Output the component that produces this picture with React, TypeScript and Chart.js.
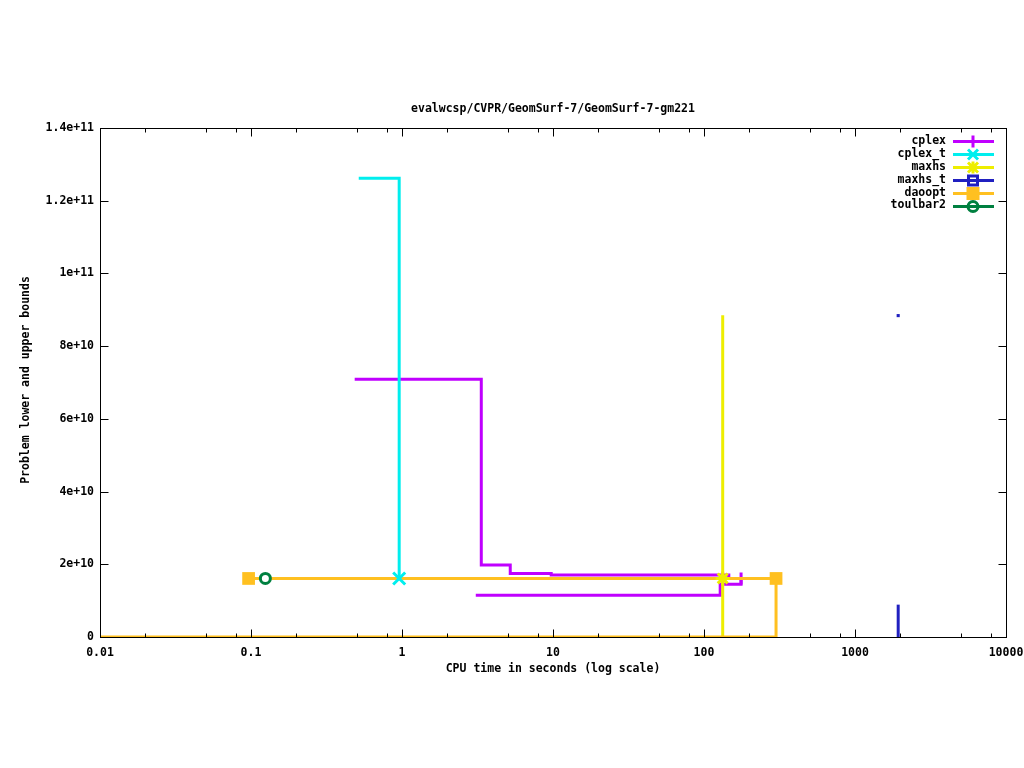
import React, { useEffect, useRef } from 'react';
import { Chart, registerables } from 'chart.js';
Chart.register(...registerables);

const TITLE = 'evalwcsp/CVPR/GeomSurf-7/GeomSurf-7-gm221';
const X_TITLE = 'CPU time in seconds (log scale)';
const Y_TITLE = 'Problem lower and upper bounds';

const xTickValues = [0.01, 0.1, 1, 10, 100, 1000, 10000];
const xTickLabels = ['0.01', '0.1', '1', '10', '100', '1000', '10000'];
const xMinorFactors = [2, 5, 8];
const yTickValues = [0, 2e10, 4e10, 6e10, 8e10, 1e11, 1.2e11, 1.4e11];
const yTickLabels = ['0', '2e+10', '4e+10', '6e+10', '8e+10', '1e+11', '1.2e+11', '1.4e+11'];

const seriesNames = ['cplex', 'cplex_t', 'maxhs', 'maxhs_t', 'daoopt', 'toulbar2'];
const seriesColors = ['#c000ff', '#00eeee', '#eeee00', '#2020c0', '#ffc020', '#008040'];

// cplex
const cplexUpperTime = [0.486, 3.35, 5.21, 9.73, 146, 176];
const cplexUpperBound = [7.09e10, 1.98e10, 1.75e10, 1.705e10, 1.61e10, 1.61e10];
const cplexLowerTime = [3.08, 128, 176];
const cplexLowerBound = [1.147e10, 1.45e10, 1.61e10];
const cplexEndTime = [176];
const cplexEndBound = [1.61e10];
// cplex_t
const cplexTUpperTime = [0.517, 0.958];
const cplexTUpperBound = [1.262e11, 1.61e10];
const cplexTEndTime = [0.958];
const cplexTEndBound = [1.61e10];
// maxhs
const maxhsTime = [133, 133];
const maxhsBound = [8.85e10, 0];
const maxhsEndTime = [133];
const maxhsEndBound = [1.61e10];
// maxhs_t
const maxhsTUpperTime = [1932];
const maxhsTUpperBound = [8.84e10];
const maxhsTLowerTime = [1932, 1932];
const maxhsTLowerBound = [0, 8.9e9];
// daoopt
const daooptUpperTime = [0.0964, 300];
const daooptUpperBound = [1.61e10, 1.61e10];
const daooptLowerTime = [0.01, 300];
const daooptLowerBound = [0, 1.61e10];
const daooptMarkTime = [0.0964, 300];
const daooptMarkBound = [1.61e10, 1.61e10];
// toulbar2
const toulbarTime = [0.1245];
const toulbarBound = [1.61e10];

const FONT = "bold 11.5px 'DejaVu Sans Mono'";
const FONT_OBJ = { family: "'DejaVu Sans Mono'", size: 11.5, weight: 'bold' as const };

const pts = (xs: number[], ys: number[]) => xs.map((x, i) => ({ x, y: ys[i] }));

const lineDs = (label: string, data: any[], color: string, order: number, stepped: any = false) => ({
  type: 'line' as const,
  label,
  data,
  borderColor: color,
  backgroundColor: color,
  borderWidth: 3,
  pointRadius: 0,
  pointHoverRadius: 0,
  stepped,
  fill: false,
  order,
  borderCapStyle: 'butt' as const,
  borderJoinStyle: 'miter' as const,
});

const markDs = (label: string, data: any[], color: string, style: any, radius: number, order: number, bg?: string, bw = 3) => ({
  type: 'line' as const,
  label,
  data,
  showLine: false,
  pointStyle: style,
  pointRadius: radius,
  pointHoverRadius: radius,
  pointBorderWidth: bw,
  borderColor: color,
  backgroundColor: bg ?? color,
  pointBorderColor: color,
  pointBackgroundColor: bg ?? color,
  order,
});

function drawLegendMarker(ctx: CanvasRenderingContext2D, i: number, x: number, y: number, color: string) {
  ctx.save();
  ctx.strokeStyle = color;
  ctx.fillStyle = color;
  ctx.lineWidth = 3;
  ctx.beginPath();
  if (i === 0) {
    ctx.moveTo(x, y - 6); ctx.lineTo(x, y + 6);
    ctx.moveTo(x - 6, y); ctx.lineTo(x + 6, y);
    ctx.stroke();
  } else if (i === 1) {
    ctx.moveTo(x - 5, y - 5); ctx.lineTo(x + 5, y + 5);
    ctx.moveTo(x - 5, y + 5); ctx.lineTo(x + 5, y - 5);
    ctx.stroke();
  } else if (i === 2) {
    ctx.moveTo(x, y - 6); ctx.lineTo(x, y + 6);
    ctx.moveTo(x - 5, y - 5); ctx.lineTo(x + 5, y + 5);
    ctx.moveTo(x - 5, y + 5); ctx.lineTo(x + 5, y - 5);
    ctx.stroke();
  } else if (i === 3) {
    ctx.strokeRect(x - 4.5, y - 4.5, 9, 9);
  } else if (i === 4) {
    ctx.fillRect(x - 6.5, y - 6.5, 13, 13);
  } else {
    ctx.arc(x, y, 5, 0, Math.PI * 2);
    ctx.stroke();
  }
  ctx.restore();
}

const overlay = {
  id: 'overlay',
  afterDatasetsDraw(chart: any) {
    const ctx: CanvasRenderingContext2D = chart.ctx;
    const { left, right, top, bottom } = chart.chartArea;
    const xs = chart.scales.x;
    const ys = chart.scales.y;
    ctx.save();
    ctx.strokeStyle = '#000';
    ctx.lineWidth = 1;
    const L = Math.round(left) + 0.5, R = Math.round(right) + 0.5, T = Math.round(top) + 0.5, B = Math.round(bottom) + 0.5;
    ctx.strokeRect(L, T, R - L, B - T);
    ctx.beginPath();
    yTickValues.forEach((v) => {
      const py = Math.round(ys.getPixelForValue(v)) + 0.5;
      ctx.moveTo(L, py); ctx.lineTo(L + 8, py);
      ctx.moveTo(R, py); ctx.lineTo(R - 8, py);
    });
    xTickValues.forEach((v) => {
      const px = Math.round(xs.getPixelForValue(v)) + 0.5;
      ctx.moveTo(px, B); ctx.lineTo(px, B - 8);
      ctx.moveTo(px, T); ctx.lineTo(px, T + 8);
      xMinorFactors.forEach((f) => {
        const mv = v * f;
        if (mv > 10000) return;
        const mx = Math.round(xs.getPixelForValue(mv)) + 0.5;
        ctx.moveTo(mx, B); ctx.lineTo(mx, B - 4);
        ctx.moveTo(mx, T); ctx.lineTo(mx, T + 4);
      });
    });
    ctx.stroke();
    ctx.restore();
  },
  afterDraw(chart: any) {
    const ctx: CanvasRenderingContext2D = chart.ctx;
    const { left, right } = chart.chartArea;
    const cx = (left + right) / 2;
    ctx.save();
    ctx.fillStyle = '#000';
    ctx.font = FONT;
    ctx.textAlign = 'center';
    ctx.textBaseline = 'middle';
    ctx.fillText(TITLE, cx, 109);
    ctx.fillText(X_TITLE, cx, 669);
    ctx.save();
    ctx.translate(26, 380);
    ctx.rotate(-Math.PI / 2);
    ctx.fillText(Y_TITLE, 0, 0);
    ctx.restore();
    ctx.textAlign = 'right';
    seriesNames.forEach((name, i) => {
      const y = 141 + i * 12.9;
      ctx.fillStyle = '#000';
      ctx.fillText(name, 946, y);
      ctx.strokeStyle = seriesColors[i];
      ctx.lineWidth = 3;
      ctx.beginPath();
      ctx.moveTo(953, Math.round(y) + 0.5);
      ctx.lineTo(994, Math.round(y) + 0.5);
      ctx.stroke();
      drawLegendMarker(ctx, i, 973, Math.round(y) + 0.5, seriesColors[i]);
    });
    ctx.restore();
  },
};

export default function App() {
  const ref = useRef<HTMLCanvasElement>(null);
  useEffect(() => {
    const [cPlex, cPlexT, cMaxhs, cMaxhsT, cDaoopt, cToul] = seriesColors;
    const datasets: any[] = [
      lineDs('cplex', pts(cplexUpperTime, cplexUpperBound), cPlex, 30, 'before'),
      lineDs('cplex lb', pts(cplexLowerTime, cplexLowerBound), cPlex, 29, 'before'),
      markDs('cplex end', pts(cplexEndTime, cplexEndBound), cPlex, 'cross', 6, 28.5),
      lineDs('cplex_t', pts(cplexTUpperTime, cplexTUpperBound), cPlexT, 28, 'before'),
      lineDs('maxhs', pts(maxhsTime, maxhsBound), cMaxhs, 27),
      lineDs('maxhs_t lb', pts(maxhsTLowerTime, maxhsTLowerBound), cMaxhsT, 26),
      markDs('maxhs_t ub', pts(maxhsTUpperTime, maxhsTUpperBound), cMaxhsT, 'rect', 2.2, 25, undefined, 0),
      lineDs('daoopt', pts(daooptUpperTime, daooptUpperBound), cDaoopt, 24),
      lineDs('daoopt lb', pts(daooptLowerTime, daooptLowerBound), cDaoopt, 23, 'before'),
      markDs('cplex_t end', pts(cplexTEndTime, cplexTEndBound), cPlexT, 'crossRot', 8.5, 9),
      markDs('maxhs end', pts(maxhsEndTime, maxhsEndBound), cMaxhs, 'star', 7, 8),
      markDs('daoopt marks', pts(daooptMarkTime, daooptMarkBound), cDaoopt, 'rect', 9, 7, undefined, 0),
      markDs('toulbar2', pts(toulbarTime, toulbarBound), cToul, 'circle', 5, 6, '#ffffff'),
    ];
    const chart = new Chart(ref.current!, {
      type: 'line',
      data: { datasets },
      options: {
        responsive: false,
        animation: false,
        devicePixelRatio: 1,
        events: [],
        layout: { padding: { top: 128, left: 0, right: 18, bottom: 0 } },
        plugins: { legend: { display: false }, title: { display: false }, tooltip: { enabled: false } },
        scales: {
          x: {
            type: 'logarithmic',
            min: 0.01,
            max: 10000,
            grid: { display: false, drawTicks: false },
            border: { display: false },
            afterBuildTicks: (s: any) => { s.ticks = xTickValues.map((v) => ({ value: v })); },
            afterFit: (s: any) => { s.height = 131; s.paddingLeft = 0; s.paddingRight = 0; },
            ticks: {
              autoSkip: false,
              maxRotation: 0,
              minRotation: 0,
              padding: 9,
              color: '#000',
              font: FONT_OBJ,
              callback: (_v: any, i: number) => xTickLabels[i],
            },
          },
          y: {
            type: 'linear',
            min: 0,
            max: 1.4e11,
            grid: { display: false, drawTicks: false },
            border: { display: false },
            afterBuildTicks: (s: any) => { s.ticks = yTickValues.map((v) => ({ value: v })); },
            afterFit: (s: any) => { s.width = 100; s.paddingTop = 0; s.paddingBottom = 0; },
            ticks: {
              autoSkip: false,
              padding: 6,
              color: '#000',
              font: FONT_OBJ,
              callback: (_v: any, i: number) => yTickLabels[i],
            },
          },
        },
      },
      plugins: [overlay],
    } as any);
    return () => chart.destroy();
  }, []);
  return (
    <div style={{ position: 'absolute', left: 0, top: 0, width: 1024, height: 768, background: '#ffffff' }}>
      <canvas ref={ref} width={1024} height={768} style={{ display: 'block', width: 1024, height: 768 }} />
    </div>
  );
}
